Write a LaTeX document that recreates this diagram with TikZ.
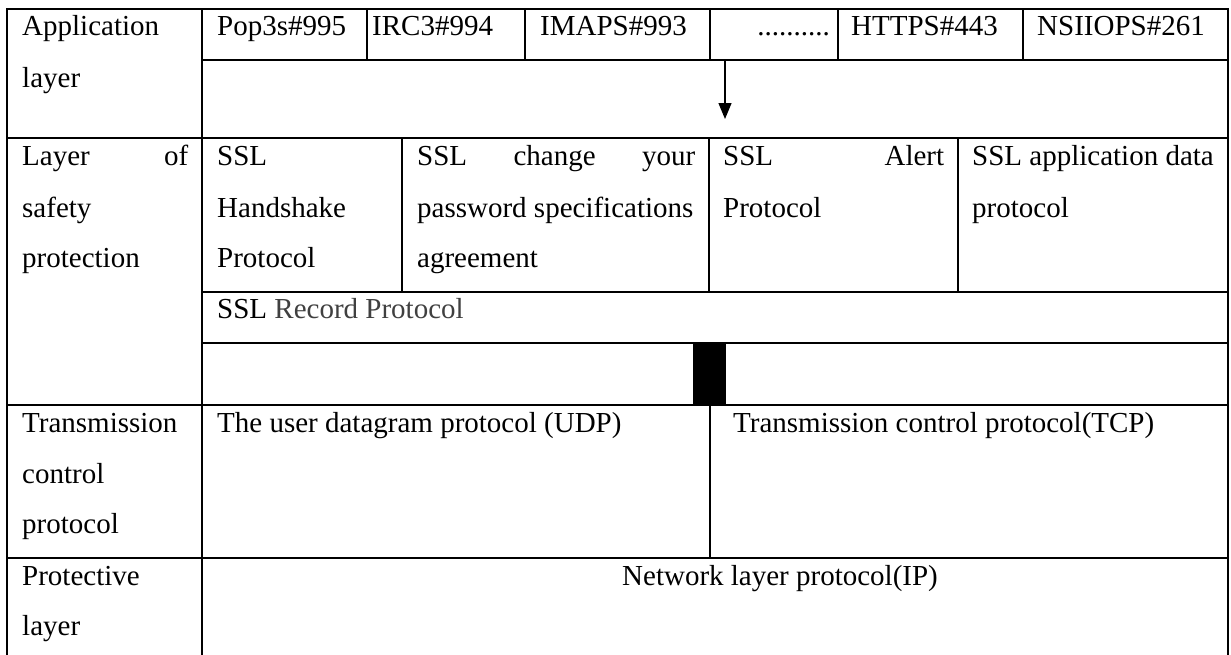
\documentclass[tikz,border=0pt]{standalone}
\usepackage{fontspec}
\setmainfont{Liberation Serif}
\usetikzlibrary{arrows.meta}
\definecolor{recgray}{HTML}{404040}
\newcommand\cellfont{\fontsize{29}{34}\selectfont}
\begin{document}
\begin{tikzpicture}[x=1pt,y=-1pt,
  grid/.style={line width=1.6pt,line cap=rect},
  txt/.style={anchor=base west,inner sep=0pt,font=\cellfont},
  txtr/.style={anchor=base east,inner sep=0pt,font=\cellfont},
  link/.style={line width=1.2pt,-{Triangle[width=13pt,length=16pt]}}]
\useasboundingbox (0,0) rectangle (1231,654);

% table rules
\draw[grid] (7,654) -- (7,9) -- (1228,9) -- (1228,654);
\draw[grid] (202,9) -- (202,654);
\draw[grid] (202,60) -- (1228,60);
\foreach \x in {367,525,710,838,1023} \draw[grid] (\x,9) -- (\x,60);
\draw[grid] (7,138) -- (1228,138);
\foreach \x in {402,709,958} \draw[grid] (\x,138) -- (\x,292);
\draw[grid] (202,292) -- (1228,292);
\draw[grid] (202,343) -- (1228,343);
\draw[grid] (7,405) -- (1228,405);
\draw[grid] (710,405) -- (710,558);
\draw[grid] (7,558) -- (1228,558);

% filled block between record layer and transport layer
\fill[black] (693,343) rectangle (726,405);

% application layer
\node[txt] (app1) at (22,35) {Application};
\node[txt] (app2) at (22,87) {layer};
\node[txt] (pop) at (217,35) {Pop3s\#995};
\node[txt] (irc) at (372,35) {IRC3\#994};
\node[txt] (imaps) at (540,35) {IMAPS\#993};
\node[txtr] (dots) at (830,35) {..........};
\node[txt] (https) at (851,35) {HTTPS\#443};
\node[txt] (nsiiops) at (1037,35) {NSIIOPS\#261};

\coordinate (arrS) at (725,60);
\coordinate (arrE) at (725,119);
\draw[link] (arrS) -- (arrE);

% security layer
\node[txt] (sec1) at (22,165) {\makebox[166pt][s]{Layer of}};
\node[txt] (sec2) at (22,217) {safety};
\node[txt] (sec3) at (22,267) {protection};

\node[txt] (hs1) at (217,165) {SSL};
\node[txt] (hs2) at (217,217) {Handshake};
\node[txt] (hs3) at (217,267) {Protocol};

\node[txt] (cp1) at (417,165) {\makebox[278pt][s]{SSL change your}};
\node[txt] (cp2) at (417,217) {password specifications};
\node[txt] (cp3) at (417,267) {agreement};

\node[txt] (al1) at (723,165) {\makebox[221pt][s]{SSL Alert}};
\node[txt] (al2) at (723,217) {Protocol};

\node[txt] (ad1) at (972,165) {SSL application data};
\node[txt] (ad2) at (972,217) {protocol};

\node[txt] (rec) at (217,318) {SSL {\color{recgray}Record Protocol}};

% transport layer
\node[txt] (tr1) at (22,432) {Transmission};
\node[txt] (tr2) at (22,483) {control};
\node[txt] (tr3) at (22,533) {protocol};
\node[txt] (udp) at (217,432) {The user datagram protocol (UDP)};
\node[txt] (tcp) at (733,432) {Transmission control protocol(TCP)};

% network layer
\node[txt] (pl1) at (22,585) {Protective};
\node[txt] (pl2) at (22,635) {layer};
\node[txt] (ip) at (622,585) {Network layer protocol(IP)};
\end{tikzpicture}
\end{document}
